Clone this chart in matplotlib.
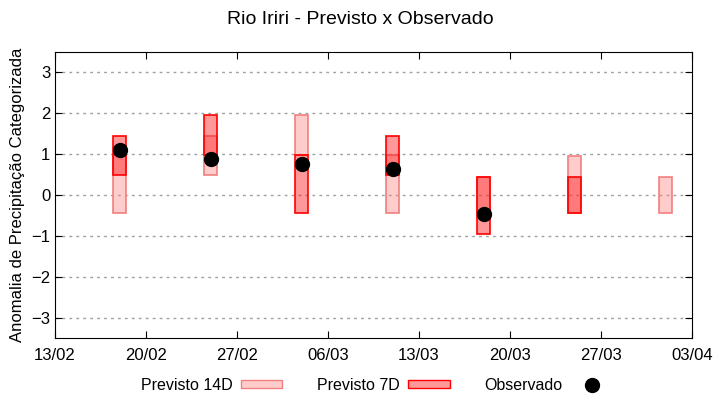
import numpy as np
import matplotlib
matplotlib.use("Agg")
import matplotlib.pyplot as plt
import matplotlib.dates as mdates
from matplotlib.patches import Patch
from matplotlib.lines import Line2D

plt.rcParams['font.family'] = ['Liberation Sans', 'DejaVu Sans']

# Semanas de previsao
datas = np.array(['2023-02-18', '2023-02-25', '2023-03-04', '2023-03-11',
                  '2023-03-18', '2023-03-25', '2023-04-01'], dtype='datetime64[D]')

# Previsto 14 dias (limite inferior / superior da categoria)
p14_min = [-0.45, 0.50, 0.97, -0.45, -0.45, -0.45, -0.45]
p14_max = [0.97, 1.43, 1.95, 0.97, 0.43, 0.95, 0.43]

# Previsto 7 dias
p7_min = [0.50, 0.97, -0.45, 0.50, -0.95, -0.45, np.nan]
p7_max = [1.43, 1.95, 0.97, 1.43, 0.43, 0.43, np.nan]

# Observado
obs = [1.10, 0.88, 0.76, 0.63, -0.46, np.nan, np.nan]

yticks = [-3, -2, -1, 0, 1, 2, 3]
xticks = np.arange(np.datetime64('2023-02-13'), np.datetime64('2023-04-04'), 7)

cor14 = (1.0, 0.5, 0.5, 0.4)
borda14 = '#F08080'
cor7 = (1.0, 0.0, 0.0, 0.4)
borda7 = '#FF0000'

fig = plt.figure(figsize=(7.2, 4.0), dpi=100)
ax = fig.add_axes([0.0764, 0.154, 0.8846, 0.717])

p14_min = np.array(p14_min)
p14_max = np.array(p14_max)
p7_min = np.array(p7_min)
p7_max = np.array(p7_max)

ax.bar(datas, p14_max - p14_min, bottom=p14_min, width=1.0,
       facecolor=cor14, edgecolor=borda14, linewidth=1.2, zorder=2)
ok = ~np.isnan(p7_min)
ax.bar(datas[ok], (p7_max - p7_min)[ok], bottom=p7_min[ok], width=1.0,
       facecolor=cor7, edgecolor=borda7, linewidth=1.2, zorder=3)
ax.plot(datas, obs, 'o', color='black', markersize=10, zorder=4)

ax.set_xlim(np.datetime64('2023-02-13'), np.datetime64('2023-04-03'))
ax.set_ylim(-3.5, 3.5)
ax.set_xticks(xticks)
ax.xaxis.set_major_formatter(mdates.DateFormatter('%d/%m'))
ax.set_yticks(yticks)
ax.yaxis.grid(True, linestyle=(0, (2, 3)), color='#a0a0a0', linewidth=1)
ax.set_axisbelow(True)
ax.tick_params(direction='in', length=5, top=True, right=True, labelsize=12)
ax.tick_params(axis='x', pad=7)
ax.set_ylabel('Anomalia de Precipitação Categorizada', fontsize=12, labelpad=4)

fig.text(0.5, 0.952, 'Rio Iriri - Previsto x Observado', ha='center', va='center',
         fontsize=14)

handles = [Patch(facecolor=cor14, edgecolor=borda14),
           Patch(facecolor=cor7, edgecolor=borda7),
           Line2D([], [], marker='o', color='black', linestyle='none', markersize=10)]
fig.legend(handles, ['Previsto 14D', 'Previsto 7D', 'Observado'],
           loc='center', bbox_to_anchor=(0.523, 0.037), ncol=3, frameon=False,
           markerfirst=False, columnspacing=2.2, handlelength=2.6,
           handletextpad=0.5, handleheight=0.35, fontsize=11.5)

fig.savefig('out.png', dpi=100)
